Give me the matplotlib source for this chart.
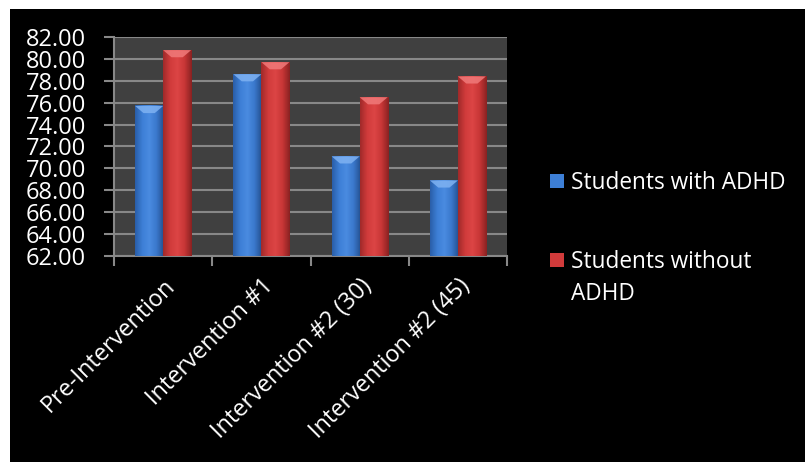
import numpy as np
import matplotlib
matplotlib.use("Agg")
import matplotlib.pyplot as plt
from matplotlib.patches import Rectangle, Polygon
from matplotlib.colors import LinearSegmentedColormap

categories = ["Pre-Intervention", "Intervention #1", "Intervention #2 (30)", "Intervention #2 (45)"]
series_names = ["Students with ADHD", "Students without\nADHD"]
with_adhd = [75.7, 78.6, 71.1, 68.9]
without_adhd = [80.8, 79.7, 76.5, 78.4]
yticks = [62, 64, 66, 68, 70, 72, 74, 76, 78, 80, 82]

plt.rcParams['font.family'] = ['Open Sans', 'DejaVu Sans']

W, H = 807, 462
fig = plt.figure(figsize=(W / 100, H / 100), dpi=100)
fig.patch.set_facecolor("white")
fig.patches.append(Rectangle((10 / W, 0), (W - 12) / W, 1 - 9 / H,
                             transform=fig.transFigure, facecolor="black",
                             edgecolor="none", zorder=-10))

ax = fig.add_axes([114 / W, 1 - 256 / H, (507 - 114) / W, (256 - 37) / H])
ax.set_facecolor("#404040")

blue_cmap = LinearSegmentedColormap.from_list(
    "b", ["#2a5ea8", "#3d7fd6", "#4a8be0", "#3a78cc", "#24508f"])
red_cmap = LinearSegmentedColormap.from_list(
    "r", ["#a02a2a", "#d13b3b", "#dc4545", "#c83636", "#8a2222"])
grad = np.linspace(0, 1, 64).reshape(1, -1)

bw = 0.285
for i, cat in enumerate(categories):
    c = i + 0.5
    for j, (vals, cmap, top) in enumerate([(with_adhd, blue_cmap, "#7fb2f2"),
                                           (without_adhd, red_cmap, "#f07a7a")]):
        v = vals[i]
        x0 = c - bw + j * bw
        x1 = x0 + bw
        ax.imshow(grad, cmap=cmap, extent=[x0, x1, yticks[0], v], aspect="auto",
                  zorder=3, interpolation="bilinear")
        dv = 0.65
        ax.add_patch(Polygon([(x0, v), (x1, v), (x1 - bw * 0.3, v - dv), (x0 + bw * 0.3, v - dv)],
                             closed=True, facecolor=top, edgecolor="none", alpha=0.85, zorder=4))
ax.set_xlim(0, len(categories))
ax.set_ylim(yticks[0], yticks[-1])

ax.set_yticks(yticks)
ax.set_yticklabels([f"{t:.2f}" for t in yticks], color="white", fontsize=17)
ax.yaxis.grid(True, color="#888888", linewidth=1.5, zorder=1)
ax.set_axisbelow(True)

ax.set_xticks(np.arange(len(categories) + 1))
ax.set_xticklabels([])
ax.set_xticks(np.arange(len(categories)) + 0.5, minor=True)
ax.set_xticklabels(categories, minor=True, rotation=45, ha="right",
                   rotation_mode="anchor", color="white", fontsize=16.9)
ax.tick_params(axis="x", which="minor", length=0, pad=13)
ax.tick_params(axis="x", which="major", length=7, color="#888888", width=1.5)
ax.tick_params(axis="y", length=7, color="#888888", width=1.5, pad=13)

for s in ["top", "right"]:
    ax.spines[s].set_visible(False)
for s in ["left", "bottom"]:
    ax.spines[s].set_color("#888888")
    ax.spines[s].set_linewidth(1.5)

# legend
leg_cols = ["#3d7fd6", "#d13b3b"]
leg_y = [174, 253]
for name, col, y in zip(series_names, leg_cols, leg_y):
    fig.patches.append(Rectangle((550 / W, 1 - (y + 14) / H), 14 / W, 14 / H,
                                 transform=fig.transFigure, facecolor=col,
                                 edgecolor="none"))
    fig.text(571 / W, 1 - (y - 3) / H, name, color="white", fontsize=16.3,
             va="top", ha="left", linespacing=1.45,
             transform=fig.transFigure)

fig.savefig("out.png", dpi=100, facecolor=fig.get_facecolor())
